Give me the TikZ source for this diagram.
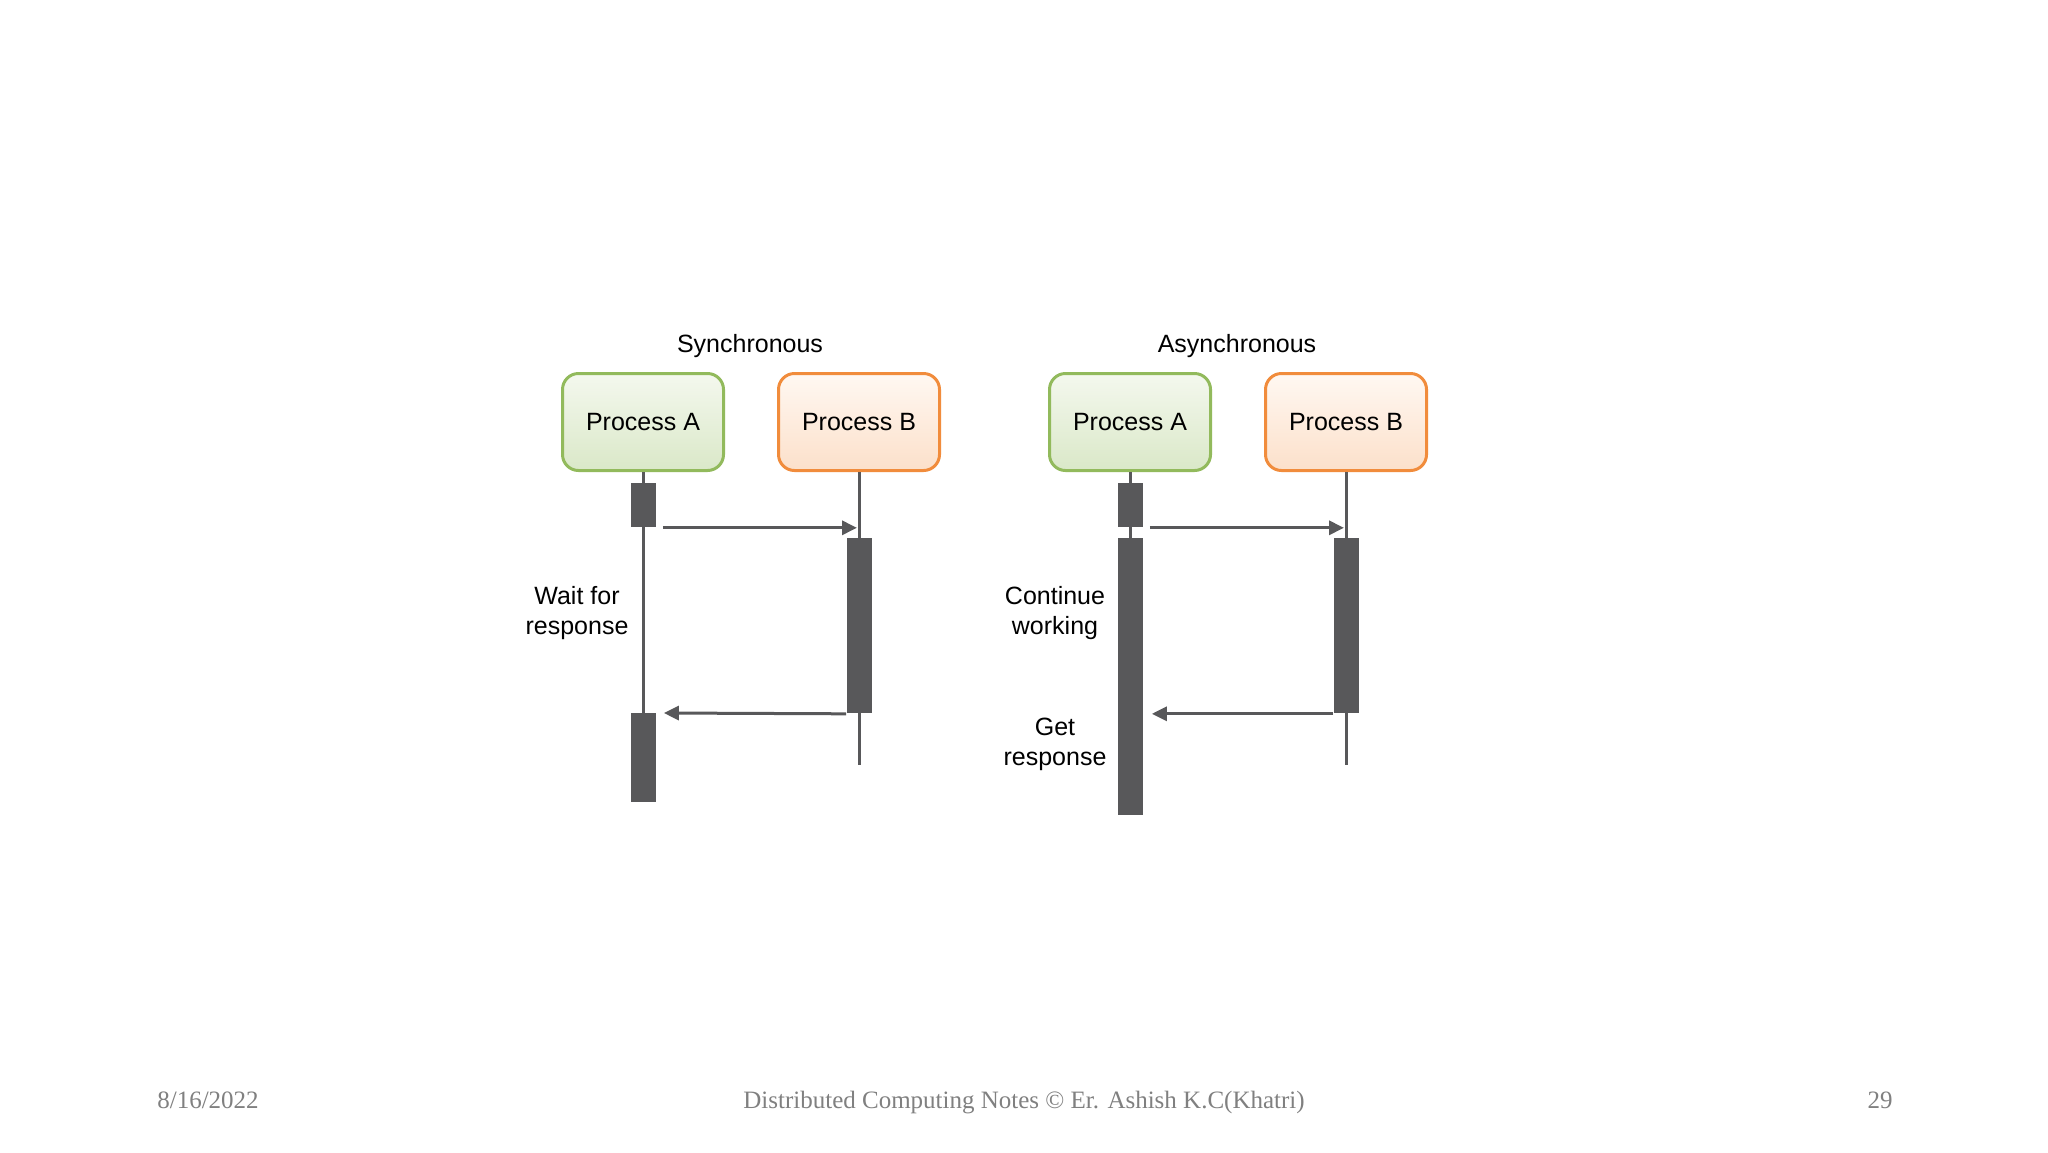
\documentclass[tikz,border=0pt]{standalone}
\usepackage{fontspec}
\setmainfont{Liberation Sans}
\newfontfamily\footfont{Liberation Serif}
\usetikzlibrary{positioning,arrows.meta}
\usepackage{xcolor}
\definecolor{procgreen}{RGB}{146,186,92}
\definecolor{greentop}{RGB}{244,248,238}
\definecolor{greenbot}{RGB}{218,232,200}
\definecolor{procorange}{RGB}{241,140,60}
\definecolor{orangetop}{RGB}{255,248,242}
\definecolor{orangebot}{RGB}{252,224,202}
\definecolor{lifegray}{RGB}{88,88,90}
\definecolor{footgray}{RGB}{128,128,128}

\begin{document}
\begin{tikzpicture}[
      x=0.5pt, y=-0.5pt,
      font=\fontsize{12.5}{15}\selectfont,
      proc/.style={draw, rounded corners=8pt, line width=1.5pt, minimum width=80.5pt,
                   minimum height=48.5pt, align=center, node distance=26pt},
      pa/.style={proc, draw=procgreen, top color=greentop, bottom color=greenbot},
      pb/.style={proc, draw=procorange, top color=orangetop, bottom color=orangebot},
      bar/.style={fill=lifegray, minimum width=12.5pt, inner sep=0pt, anchor=north},
      life/.style={draw=lifegray, line width=1.5pt},
      msg/.style={-{Triangle[length=7.5pt,width=7pt]}, line width=1.5pt, draw=lifegray},
      lbl/.style={align=center},
      foot/.style={font=\footfont\fontsize{12.5}{14}\selectfont, text=footgray, anchor=base},
    ]
    \path[use as bounding box, fill=white] (0,0) rectangle (2048,1152);

    % synchronous
    \node (stitle) at (750,346) {Synchronous};
    \node[pa] (sa) at (643,422) {Process A};
    \node[pb, right=of sa] (sb) {Process B};
    \coordinate (sbend) at (sb.south |- 0,765);

    \node[bar, minimum height=22pt] (sa1) at (643,483) {};
    \node[bar, minimum height=44.5pt] (sa2) at (643,713) {};
    \node[bar, minimum height=87.5pt] (sb1) at (sb.south |- 0,538) {};

    \draw[life] (sa.south) -- (sa2.north);
    \draw[life] (sb.south) -- (sbend);
    \node[bar, minimum height=22pt] at (sa1.north) {};
    \node[bar, minimum height=87.5pt] at (sb1.north) {};

    \draw[msg] ([xshift=3.5pt]sa1.south east) -- ([xshift=-1pt]sb.south |- sa1.south);
    \draw[msg] (sb1.south west) -- ([xshift=4pt]sa2.north east);

    \node[lbl] (swait) at (577,613) {Wait for\\response};

    % asynchronous
    \node (atitle) at (1237,346) {Asynchronous};
    \node[pa] (aa) at (1130,422) {Process A};
    \node[pb, right=of aa] (ab) {Process B};
    \coordinate (abend) at (ab.south |- 0,765);

    \node[bar, minimum height=22pt] (aa1) at (1130,483) {};
    \node[bar, minimum height=138.5pt] (aa2) at (1130,538) {};
    \node[bar, minimum height=87.5pt] (ab1) at (ab.south |- 0,538) {};

    \draw[life] (aa.south) -- (aa2.north);
    \draw[life] (ab.south) -- (abend);
    \node[bar, minimum height=22pt] at (aa1.north) {};
    \node[bar, minimum height=87.5pt] at (ab1.north) {};

    \draw[msg] ([xshift=3.5pt]aa1.south east) -- ([xshift=-1pt]ab.south |- aa1.south);
    \draw[msg] (ab1.south west) -- ([xshift=4.5pt]aa2.east |- ab1.south west);

    \node[lbl] (awork) at (1055,613) {Continue\\working};
    \node[lbl] (aget) at (1055,744) {Get\\response};

    % footer
    \node[foot] (fdate) at (208,1108) {8/16/2022};
    \node[foot] (fnote) at (1024,1108) {Distributed Computing Notes © Er. Ashish K.C(Khatri)};
    \node[foot] (fpage) at (1880,1108) {29};
  \end{tikzpicture}
\end{document}
